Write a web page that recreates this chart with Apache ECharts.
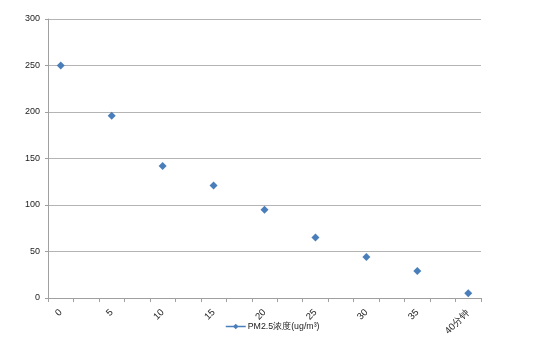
<!DOCTYPE html>
<html><head><meta charset="utf-8">
<script src="https://cdn.jsdelivr.net/npm/echarts@6/dist/echarts.min.js"></script>
<style>html,body{margin:0;padding:0;background:#fff}#c{width:550px;height:343px}</style>
</head><body><div id="c"></div>
<script>
const categories = ['0','2.5','5','7.5','10','12.5','15','17.5','20','22.5','25','27.5','30','32.5','35','37.5','40分钟'];
const pm25 = [250,null,196,null,142,null,121,null,95,null,65,null,44,null,29,null,5];
const yTicks = {min:0, max:300, interval:50};
const seriesName = 'PM2.5浓度(ug/m³)';
const color = '#4a7ebb';
const chart = echarts.init(document.getElementById('c'));
chart.setOption({
  animation:false,
  textStyle:{fontFamily:'Liberation Sans, Arial, sans-serif'},
  grid:{left:48,right:69,top:19,bottom:45,containLabel:false},
  legend:{bottom:7,left:220,itemWidth:20,itemHeight:7,itemGap:4,
    textStyle:{fontSize:8.8,color:'#222',padding:[0,0,0,-3]},
    lineStyle:{width:1.5,color:color,opacity:1},
    data:[{name:seriesName}]},
  xAxis:{type:'category',data:categories,boundaryGap:true,
    axisLine:{lineStyle:{color:'#a0a0a0',width:1}},
    axisTick:{show:true,interval:0,length:4,lineStyle:{color:'#a0a0a0'}},
    axisLabel:{interval:1,rotate:45,fontSize:9.5,color:'#222',margin:13},
    splitLine:{show:false}},
  yAxis:{type:'value',min:yTicks.min,max:yTicks.max,interval:yTicks.interval,
    axisLine:{show:true,lineStyle:{color:'#a0a0a0',width:1}},
    axisTick:{show:true,length:3,lineStyle:{color:'#a0a0a0'}},
    axisLabel:{fontSize:9,color:'#222',margin:8},
    splitLine:{lineStyle:{color:'#b4b4b4',width:1}}},
  series:[{name:seriesName,type:'line',data:pm25,connectNulls:false,
    symbol:'diamond',symbolSize:8,showSymbol:true,
    itemStyle:{color:color},
    lineStyle:{width:0,color:color}}]
});
</script></body></html>
